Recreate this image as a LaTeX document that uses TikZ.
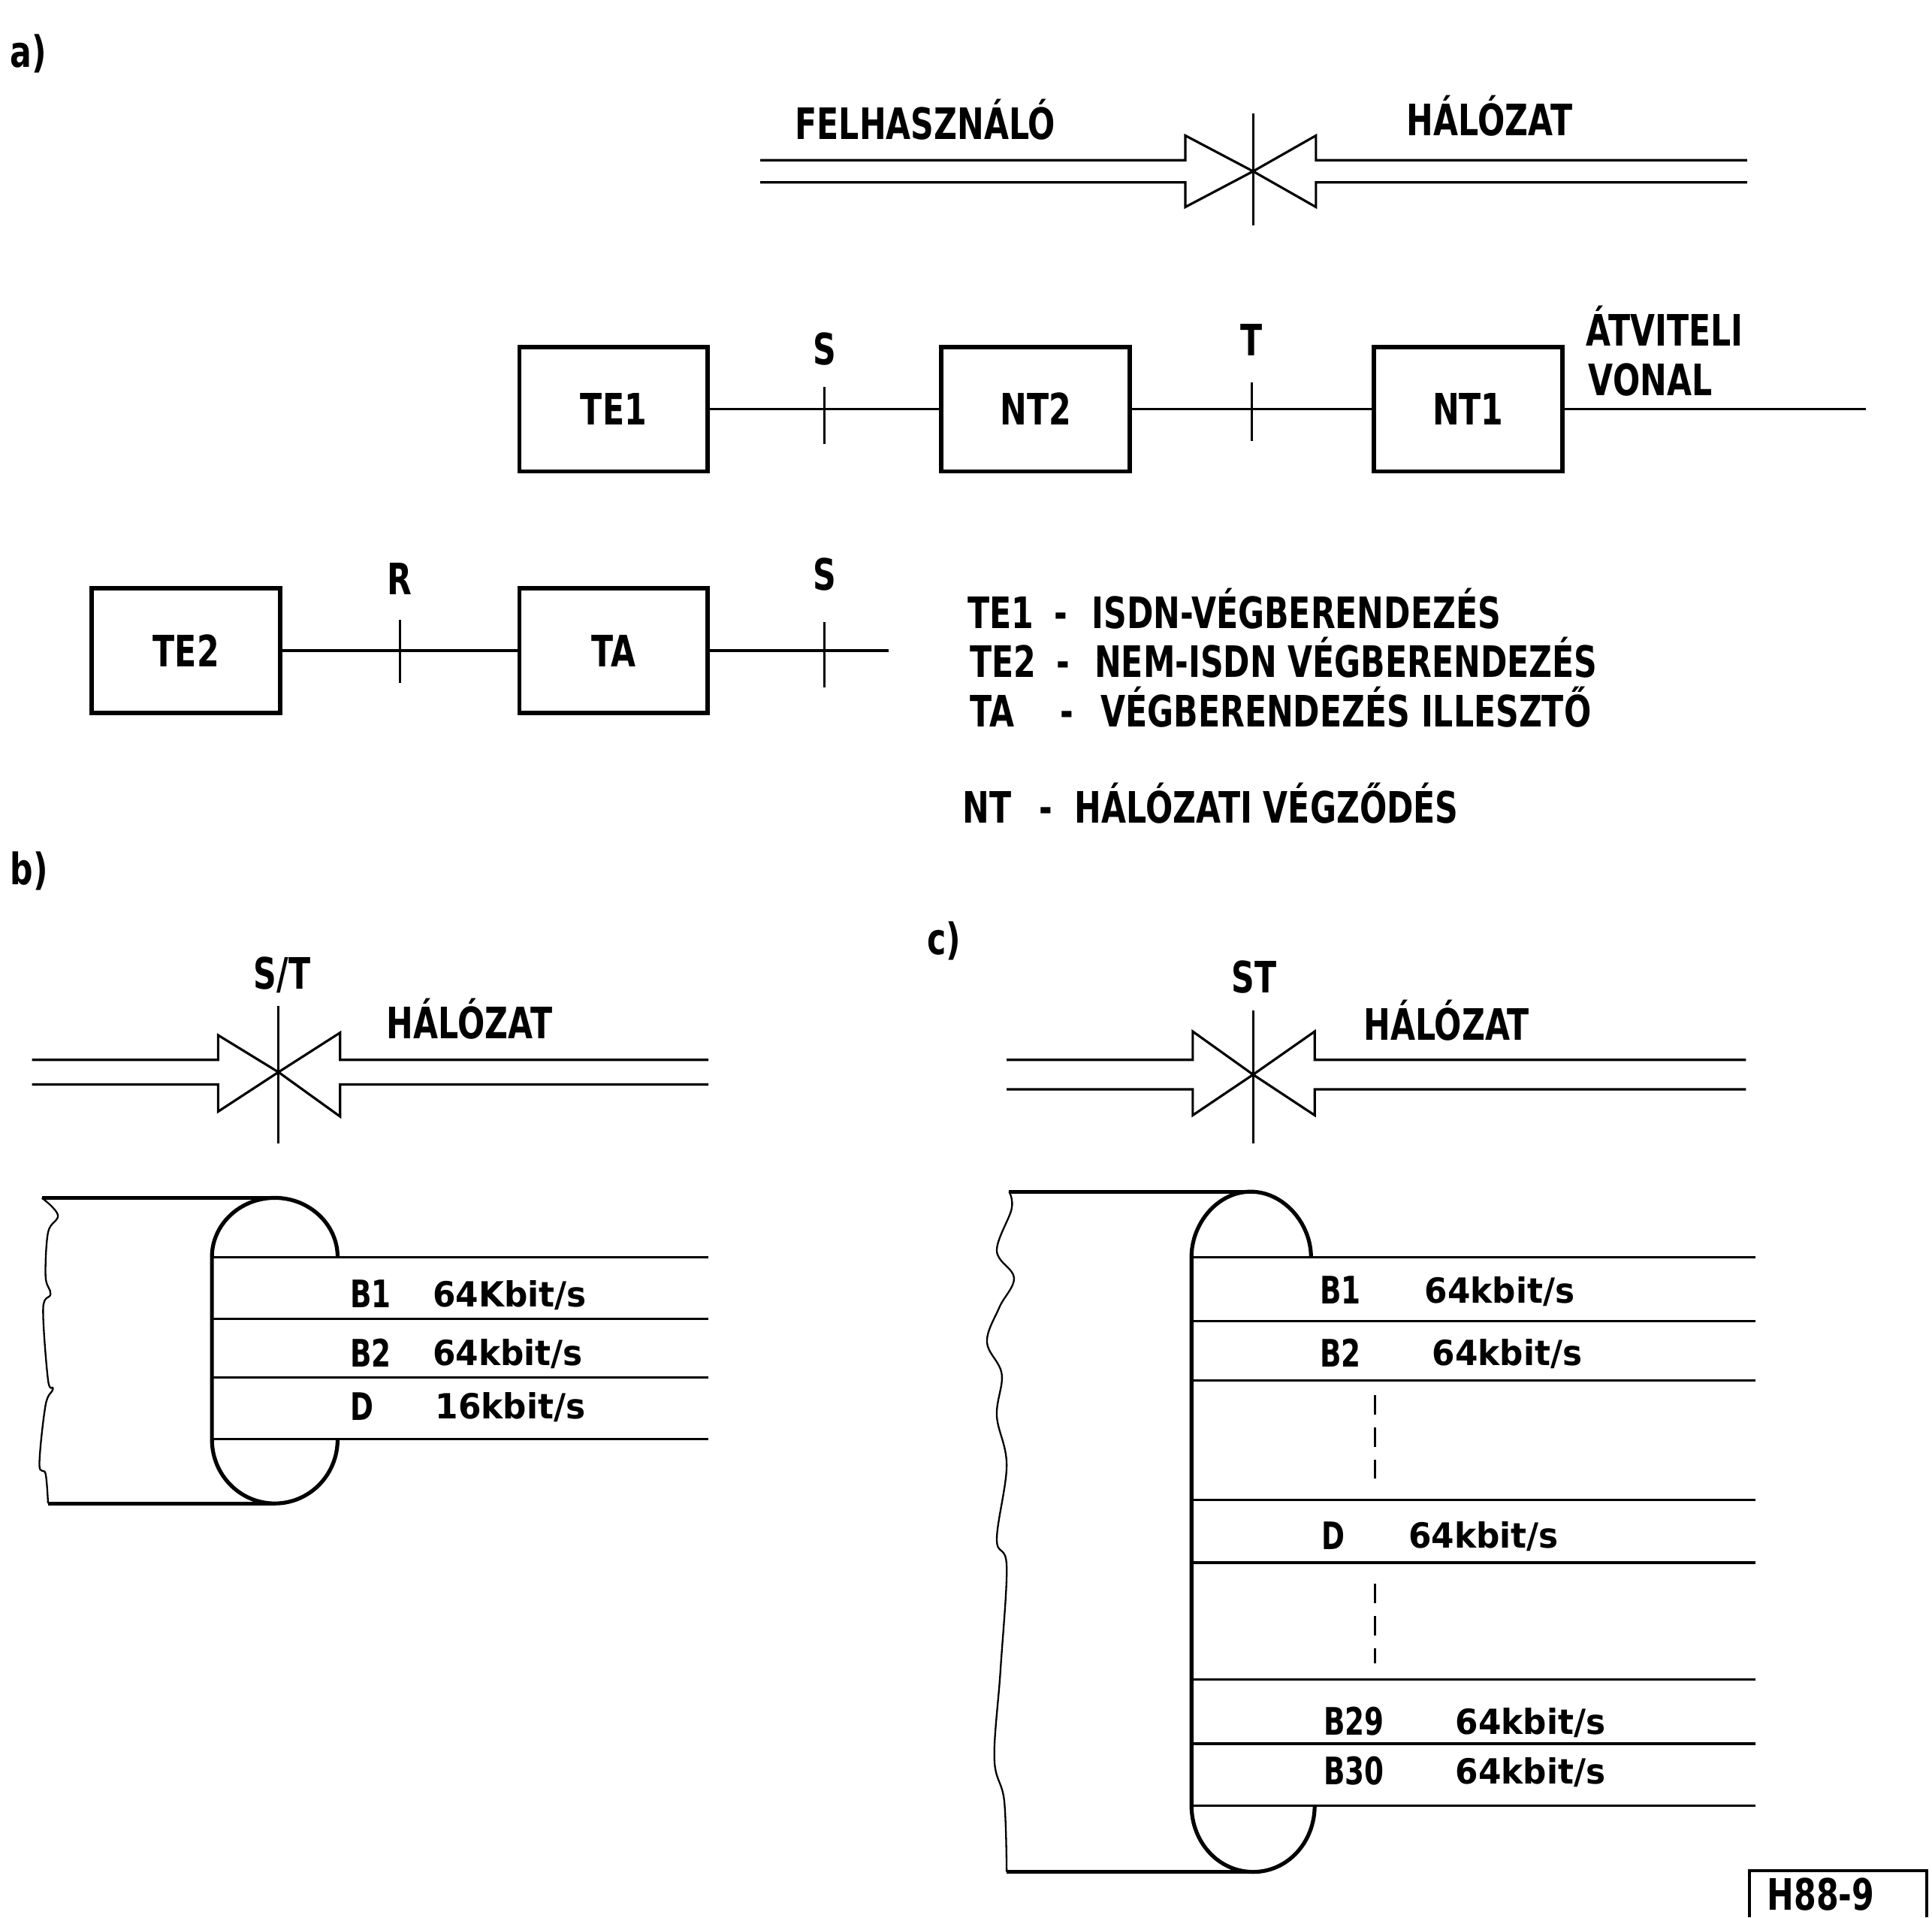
\documentclass[tikz,border=0pt]{standalone}
\usepackage{fontspec}
\newfontfamily\plotfont{DejaVu Sans}[FakeStretch=0.74]
\newfontfamily\ratefont{DejaVu Sans}[FakeStretch=0.95]
\usetikzlibrary{positioning,calc}

\begin{document}
\begin{tikzpicture}[x=0.02cm, y=-0.02cm,
    lbl/.style={font=\plotfont\bfseries\fontsize{20}{24}\selectfont, inner sep=0pt, text height=14.6pt, text depth=0pt},
    sublbl/.style={font=\plotfont\bfseries\fontsize{17.5}{21}\selectfont, inner sep=0pt, anchor=west, text height=12.8pt, text depth=0pt},
    rate/.style={font=\ratefont\bfseries\fontsize{16}{19}\selectfont, inner sep=0pt, anchor=west, text height=11.7pt, text depth=0pt},
    unitbox/.style={rectangle, draw, line width=2pt, minimum width=3.06cm, minimum height=2.02cm, inner sep=0pt, lbl},
    wire/.style={line width=1.1pt},
    tickline/.style={line width=1pt},
    cable/.style={line width=1.8pt},
    chan/.style={line width=1.1pt},
    rough/.style={line width=0.8pt},
    dashline/.style={line width=1pt, dash pattern=on 9pt off 6pt},
]
\useasboundingbox (0,0) rectangle (1568,1556);

% a) reference points
\node[lbl, anchor=west] (parta) at (8,42) {a)};
\node[lbl] (user) at (751,100) {FELHASZNÁLÓ};
\node[lbl] (net) at (1209,97) {HÁLÓZAT};
\draw[wire] (617,130) -- (962,130) -- (962,110) -- (1017,139) -- (962,168) -- (962,148) -- (617,148);
\draw[wire] (1418,130) -- (1068,130) -- (1068,110) -- (1017,139) -- (1068,168) -- (1068,148) -- (1418,148);
\draw[tickline] (1017,92) -- (1017,183);

\node[unitbox] (te1) at (498,332) {TE1};
\node[unitbox, right=3.72cm of te1] (nt2) {NT2};
\node[unitbox, right=3.89cm of nt2] (nt1) {NT1};
\node[unitbox, below=1.83cm of te1] (ta) {TA};
\node[unitbox, left=3.81cm of ta] (te2) {TE2};
\coordinate (lineend) at ($(nt1.east)+(245,0)$);
\coordinate (sfree) at ($(ta.east)+(145,0)$);
\draw[wire] (te1) -- (nt2);
\draw[wire] (nt2) -- (nt1);
\draw[wire] (nt1.east) -- (lineend);
\draw[wire] (te2) -- (ta);
\draw[wire] (ta.east) -- (sfree);

% reference point ticks
\coordinate (s1) at ($(te1.east)!0.5!(nt2.west)$);
\coordinate (t1) at ($(nt2.east)!0.5!(nt1.west)$);
\coordinate (r1) at ($(te2.east)!0.5!(ta.west)$);
\coordinate (s2) at ($(ta.east)+(93,0)$);
\draw[tickline] ($(s1)+(0,-18)$) -- ($(s1)+(0,28)$);
\draw[tickline] ($(t1)+(0,-22)$) -- ($(t1)+(0,26)$);
\draw[tickline] ($(r1)+(0,-25)$) -- ($(r1)+(0,26)$);
\draw[tickline] ($(s2)+(0,-23)$) -- ($(s2)+(0,30)$);
\node[lbl] (s1lbl) at ($(s1)+(0,-49)$) {S};
\node[lbl] (t1lbl) at ($(t1)+(0,-56)$) {T};
\node[lbl] (r1lbl) at ($(r1)+(0,-58)$) {R};
\node[lbl] (s2lbl) at ($(s2)+(0,-62)$) {S};
\node[lbl, anchor=west] (linelbl) at (1287,268) {ÁTVITELI};
\node[lbl, anchor=west] (linelbl2) at (1289,308) {VONAL};

% legend
\node[lbl, anchor=west] (kte1) at (785,497) {TE1};
\node[lbl, anchor=west] (dte1) at (855,497) {-};
\node[lbl, anchor=west] (vte1) at (886,497) {ISDN-VÉGBERENDEZÉS};
\node[lbl, anchor=west] (kte2) at (787,537) {TE2};
\node[lbl, anchor=west] (dte2) at (857,537) {-};
\node[lbl, anchor=west] (vte2) at (888,537) {NEM-ISDN VÉGBERENDEZÉS};
\node[lbl, anchor=west] (kta) at (787,577) {TA};
\node[lbl, anchor=west] (dta) at (860,577) {-};
\node[lbl, anchor=west] (vta) at (893,577) {VÉGBERENDEZÉS ILLESZTŐ};
\node[lbl, anchor=west] (knt) at (781,655) {NT};
\node[lbl, anchor=west] (dnt) at (843,655) {-};
\node[lbl, anchor=west] (vnt) at (872,655) {HÁLÓZATI VÉGZŐDÉS};

% b) basic access
\node[lbl, anchor=west] (partb) at (8,705) {b)};
\node[lbl] (stb) at (229,790) {S/T};
\node[lbl] (netb) at (381,830) {HÁLÓZAT};
\draw[wire] (26,860) -- (177,860) -- (177,840) -- (226,870) -- (177,902) -- (177,880) -- (26,880);
\draw[wire] (575,860) -- (276,860) -- (276,838) -- (226,870) -- (276,906) -- (276,880) -- (575,880);
\draw[tickline] (226,816) -- (226,928);

\draw[cable] (223,972) -- (34,972);
\draw[rough] plot[smooth, tension=0.6] coordinates {(34,972) (47,986) (39,1000) (37,1036) (41,1050) (35,1062) (39,1120) (43,1127) (37,1140) (32,1188) (37,1196) (39,1220)};
\draw[cable] (39,1220) -- (223,1220);
\draw[cable] (274,1020) .. controls (274,993.5) and (251,972) .. (223,972) .. controls (195,972) and (172,993.5) .. (172,1020) -- (172,1168) .. controls (172,1197) and (195,1220) .. (223,1220) .. controls (251,1220) and (274,1197) .. (274,1168);
\foreach \y in {1020,1070,1118,1168}
  \draw[chan] (172,\y) -- (575,\y);
\node[sublbl] (b1b) at (284,1050) {B1};
\node[rate] (b1brate) at (351,1050) {64Kbit/s};
\node[sublbl] (b2b) at (284,1098) {B2};
\node[rate] (b2brate) at (351,1098) {64kbit/s};
\node[sublbl] (db) at (284,1141) {D};
\node[rate] (dbrate) at (353,1141) {16kbit/s};

% c) primary access
\node[lbl, anchor=west] (partc) at (752,762) {c)};
\node[lbl] (stc) at (1018,793) {ST};
\node[lbl] (netc) at (1174,831) {HÁLÓZAT};
\draw[wire] (817,860) -- (968,860) -- (968,837) -- (1017,872) -- (968,905) -- (968,884) -- (817,884);
\draw[wire] (1417,860) -- (1067,860) -- (1067,837) -- (1017,872) -- (1067,905) -- (1067,884) -- (1417,884);
\draw[tickline] (1017,820) -- (1017,928);

\draw[cable] (1015,967) -- (819,967);
\draw[rough] plot[smooth, tension=0.6] coordinates {(819,967) (821,981) (809,1015) (823,1037) (811,1061) (801,1089) (813,1115) (809,1149) (817,1189) (809,1249) (817,1271) (812,1355) (807,1427) (815,1461) (817,1519)};
\draw[cable] (817,1519) -- (1017,1519);
\draw[cable] (1064,1020) .. controls (1064,993) and (1042,967) .. (1015,967) .. controls (988,967) and (967,993) .. (967,1020) -- (967,1465) .. controls (967,1495) and (989,1519) .. (1017,1519) .. controls (1045,1519) and (1067,1495) .. (1067,1465);
\foreach \y in {1020,1072,1120,1217,1268,1363,1415,1465}
  \draw[chan] (967,\y) -- (1425,\y);
\draw[dashline] (1116,1132) -- (1116,1200);
\draw[dashline] (1116,1285) -- (1116,1350);
\node[sublbl] (b1c) at (1071,1047) {B1};
\node[rate] (b1crate) at (1156,1047) {64kbit/s};
\node[sublbl] (b2c) at (1071,1098) {B2};
\node[rate] (b2crate) at (1162,1098) {64kbit/s};
\node[sublbl] (dc) at (1072,1246) {D};
\node[rate] (dcrate) at (1143,1246) {64kbit/s};
\node[sublbl] (b29c) at (1074,1397) {B29};
\node[rate] (b29crate) at (1181,1397) {64kbit/s};
\node[sublbl] (b30c) at (1074,1437) {B30};
\node[rate] (b30crate) at (1181,1437) {64kbit/s};

% figure code
\node[lbl, anchor=west] (code) at (1434,1537) {H88-9};
\draw[line width=1.4pt] (1420,1556) -- (1420,1518) -- (1564,1518) -- (1564,1556);
\end{tikzpicture}
\end{document}
